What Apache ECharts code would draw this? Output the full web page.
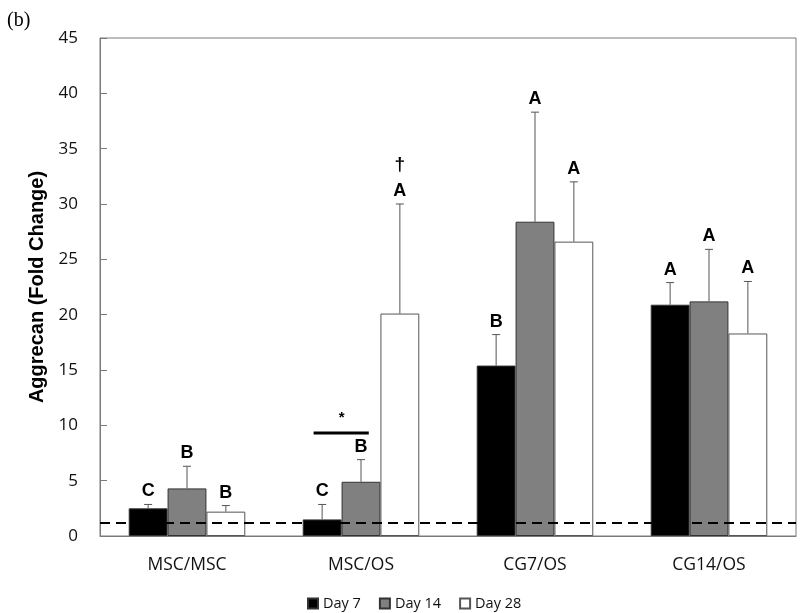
<!DOCTYPE html>
<html>
<head>
<meta charset="utf-8">
<script src="https://cdn.jsdelivr.net/npm/echarts@6/dist/echarts.min.js"></script>
<style>html,body{margin:0;padding:0;background:#fff}#c{width:800px;height:613px}</style>
</head>
<body>
<div id="c"></div>
<script>
const categories = ['MSC/MSC', 'MSC/OS', 'CG7/OS', 'CG14/OS'];
const seriesNames = ['Day 7', 'Day 14', 'Day 28'];
const day7 = [2.5, 1.5, 15.4, 20.9];
const day14 = [4.3, 4.9, 28.4, 21.2];
const day28 = [2.2, 20.1, 26.6, 18.3];
const day7Err = [2.85, 2.85, 18.2, 22.9];
const day14Err = [6.3, 6.9, 38.3, 25.9];
const day28Err = [2.75, 30.0, 32.0, 23.0];
const day7Letters = ['C', 'C', 'B', 'A'];
const day14Letters = ['B', 'B', 'A', 'A'];
const day28Letters = ['B', 'A', 'A', 'A'];
const day28Marks = ['', '†', '', ''];
const baseline = 1.2;
const sigBar = { category: 1, fromSeries: 0, toSeries: 1, y: 9.3, text: '*' };
const yTicks = { min: 0, max: 45, interval: 5 };

const means = [day7, day14, day28];
const errs = [day7Err, day14Err, day28Err];
const letters = [day7Letters, day14Letters, day28Letters];
const marks = [['', '', '', ''], ['', '', '', ''], day28Marks];
const colors = ['#000000', '#808080', '#ffffff'];
const GAP = 0.33;

const errData = [];
for (let s = 0; s < 3; s++) {
  for (let c = 0; c < categories.length; c++) {
    errData.push([categories[c], s, means[s][c], errs[s][c], letters[s][c], marks[s][c]]);
  }
}

function barCenter(api, catName, s) {
  const band = api.size([1, 0])[0];
  const bw = band * (1 - GAP) / 3;
  return { x: api.coord([catName, 0])[0] + (s - 1) * bw, bw: bw };
}

const chart = echarts.init(document.getElementById('c'), null, { renderer: 'canvas' });
const option = {
  animation: false,
  backgroundColor: '#fff',
  title: {
    text: '(b)', left: 2, top: 6,
    textStyle: { fontFamily: 'Liberation Serif', fontWeight: 'normal', fontSize: 20, color: '#000' }
  },
  grid: { left: 100, right: 4, top: 38, bottom: 77, show: true, borderColor: '#7a7a7a', borderWidth: 1 },
  legend: {
    data: seriesNames, left: 302, top: 591, icon: 'rect', itemWidth: 10, itemHeight: 10, itemGap: 18,
    textStyle: { fontFamily: 'Open Sans', fontSize: 14.5, color: '#111' }
  },
  xAxis: {
    type: 'category', data: categories,
    axisLine: { lineStyle: { color: '#7a7a7a', width: 1 } },
    axisTick: { inside: true, length: 6, lineStyle: { color: '#7a7a7a' } },
    axisLabel: { margin: 20, fontFamily: 'Open Sans', fontSize: 17.5, color: '#111' }
  },
  yAxis: {
    type: 'value', min: yTicks.min, max: yTicks.max, interval: yTicks.interval,
    name: 'Aggrecan (Fold Change)', nameLocation: 'middle', nameRotate: 90, nameGap: 47,
    nameTextStyle: { fontFamily: 'Liberation Sans', fontWeight: 'bold', fontSize: 20, color: '#000' },
    axisLine: { show: true, lineStyle: { color: '#7a7a7a', width: 1 } },
    axisTick: { show: true, inside: true, length: 7, lineStyle: { color: '#7a7a7a' } },
    splitLine: { show: false },
    axisLabel: { margin: 22, fontFamily: 'Open Sans', fontSize: 17, color: '#111' }
  },
  series: [
    ...seriesNames.map((n, s) => ({
      name: n, type: 'bar', data: means[s], barGap: '0%', barCategoryGap: (GAP * 100) + '%',
      itemStyle: { color: colors[s], borderColor: s === 2 ? '#555' : '#333', borderWidth: 1 },
      z: 2,
      markLine: s === 2 ? {
        silent: true, symbol: ['none', 'none'], label: { show: false },
        lineStyle: { color: '#000', type: [10, 6], width: 2 },
        data: [{ yAxis: baseline }], z: 5
      } : undefined
    })),
    {
      type: 'custom', name: 'errors', silent: true, z: 4,
      data: errData, encode: { x: 0, y: 3 },
      renderItem: function (params, api) {
        const d = errData[params.dataIndex];
        const bc = barCenter(api, d[0], d[1]);
        const yM = api.coord([d[0], d[2]])[1];
        const yU = api.coord([d[0], d[3]])[1];
        const children = [
          { type: 'line', shape: { x1: bc.x, y1: yM, x2: bc.x, y2: yU }, style: { stroke: '#555', lineWidth: 1 } },
          { type: 'line', shape: { x1: bc.x - 4, y1: yU, x2: bc.x + 4, y2: yU }, style: { stroke: '#555', lineWidth: 1 } },
          { type: 'text', style: { text: d[4], x: bc.x, y: yU - 4, align: 'center', verticalAlign: 'bottom', font: 'bold 18px "Liberation Sans"', fill: '#000' } }
        ];
        if (d[5]) {
          children.push({ type: 'text', style: { text: d[5], x: bc.x, y: yU - 30, align: 'center', verticalAlign: 'bottom', font: 'bold 19px "Liberation Sans"', fill: '#000' } });
        }
        return { type: 'group', children: children };
      }
    },
    {
      type: 'custom', name: 'sig', silent: true, z: 4,
      data: [[categories[sigBar.category], sigBar.y]], encode: { x: 0, y: 1 },
      renderItem: function (params, api) {
        const cat = categories[sigBar.category];
        const a = barCenter(api, cat, sigBar.fromSeries);
        const b = barCenter(api, cat, sigBar.toSeries);
        const y = api.coord([cat, sigBar.y])[1];
        return {
          type: 'group', children: [
            { type: 'line', shape: { x1: a.x - a.bw * 0.22, y1: y, x2: b.x + b.bw * 0.2, y2: y }, style: { stroke: '#000', lineWidth: 3 } },
            { type: 'text', style: { text: sigBar.text, x: (a.x + b.x) / 2, y: y - 8, align: 'center', verticalAlign: 'bottom', font: 'bold 15px "Liberation Sans"', fill: '#000' } }
          ]
        };
      }
    }
  ]
};
chart.setOption(option);
</script>
</body>
</html>
